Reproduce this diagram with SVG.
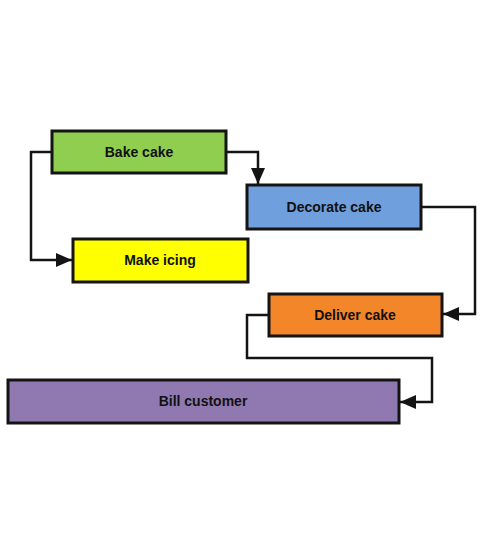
<svg xmlns="http://www.w3.org/2000/svg" width="500" height="550" viewBox="0 0 500 550">
<defs>
<style>
.box{stroke:#141414;stroke-width:3}
.lbl{font-family:"Liberation Sans",Arial,sans-serif;font-size:14px;font-weight:bold;fill:#111;text-anchor:middle;dominant-baseline:central}
.conn{fill:none;stroke:#141414;stroke-width:2.5}
</style>
<marker id="arr" viewBox="0 0 16 14" refX="16" refY="7" markerWidth="16" markerHeight="14" markerUnits="userSpaceOnUse" orient="auto">
<path d="M0,0 L16,7 L0,14 z" fill="#141414"/>
</marker>
</defs>
<rect width="500" height="550" fill="#fff"/>
<g id="connectors">
<path class="conn" d="M226,152 H258 V184" marker-end="url(#arr)"/>
<path class="conn" d="M52,152 H31 V260 H72" marker-end="url(#arr)"/>
<path class="conn" d="M421,207 H475 V314 H443" marker-end="url(#arr)"/>
<path class="conn" d="M269,315 H247 V358 H432 V402 H400" marker-end="url(#arr)"/>
</g>
<g id="bake-cake"><rect class="box" x="52" y="131" width="174" height="42" fill="#8fce4f"/><text class="lbl" x="139" y="152">Bake cake</text></g>
<g id="make-icing"><rect class="box" x="73" y="239" width="175" height="43" fill="#ffff00"/><text class="lbl" x="160" y="260">Make icing</text></g>
<g id="decorate-cake"><rect class="box" x="247" y="185" width="174" height="44" fill="#6f9fdc"/><text class="lbl" x="334" y="207">Decorate cake</text></g>
<g id="deliver-cake"><rect class="box" x="269" y="294" width="173" height="42" fill="#f4862a"/><text class="lbl" x="355" y="315">Deliver cake</text></g>
<g id="bill-customer"><rect class="box" x="8" y="380" width="391" height="43" fill="#9079b0"/><text class="lbl" x="203" y="401">Bill customer</text></g>
</svg>
